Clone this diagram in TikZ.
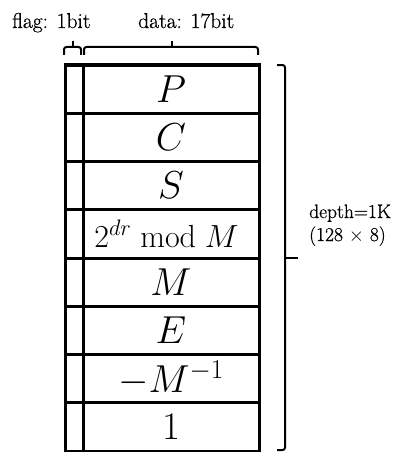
\RequirePackage{fix-cm}
\documentclass[tikz,border=0pt]{standalone}
\usepackage{fontspec}
\newfontfamily\lblfont{Latin Modern Roman}[FakeBold=0.7]
\begin{document}
\begin{tikzpicture}[x=1pt,y=-1pt,
  cell/.style={draw, line width=3pt, minimum height=48.25pt, inner sep=0pt, outer sep=0pt, anchor=north west},
  flagcell/.style={cell, minimum width=18pt},
  datacell/.style={cell, minimum width=176pt, font=\fontsize{39}{41}\selectfont},
  smallcell/.style={datacell, font=\fontsize{32}{34}\selectfont},
  lbl/.style={font=\lblfont\fontsize{21.5}{24}\selectfont, inner sep=0pt},
  rlbl/.style={font=\lblfont\fontsize{19.5}{22}\selectfont, inner sep=0pt, anchor=base west},
  brc/.style={line width=2pt, rounded corners=2.5pt}]
\useasboundingbox (0,0) rectangle (407,452);
% flag column
\node[flagcell] (f1) at (65,65) {};
\node[flagcell] (f2) at (f1.south west) {};
\node[flagcell] (f3) at (f2.south west) {};
\node[flagcell] (f4) at (f3.south west) {};
\node[flagcell] (f5) at (f4.south west) {};
\node[flagcell] (f6) at (f5.south west) {};
\node[flagcell] (f7) at (f6.south west) {};
\node[flagcell] (f8) at (f7.south west) {};
% data column
\node[datacell] (d1) at (f1.north east) {$P$};
\node[datacell] (d2) at (f2.north east) {$C$};
\node[datacell] (d3) at (f3.north east) {$S$};
\node[smallcell] (d4) at (f4.north east) {\hspace*{-9pt}$2^{dr}\bmod M$};
\node[datacell] (d5) at (f5.north east) {$M$};
\node[datacell] (d6) at (f6.north east) {$E$};
\node[datacell] (d7) at (f7.north east) {$-M^{-1}$};
\node[datacell] (d8) at (f8.north east) {$1$};
% top labels
\node[lbl, anchor=base west] (fl) at (12,28) {flag: 1bit};
\node[lbl, anchor=base west] (dl) at (138,28) {data: 17bit};
% top braces
\draw[brc] (64,55) |- (73,47) -| (81,55);
\draw[line width=2pt] (73,48) -- (73,41);
\draw[brc] (84,55) |- (172,47) -| (258,55);
\draw[line width=2pt] (172,48) -- (172,41);
% right brace
\draw[brc] (277,65) -| (285,450) -- (277,450);
\draw[line width=2pt] (284,258) -- (298,258);
% right label
\node[rlbl] (dep) at (309,218) {depth=1K};
\node[rlbl] (cnt) at (309,241) {(128 $\times$ 8)};
\end{tikzpicture}
\end{document}
